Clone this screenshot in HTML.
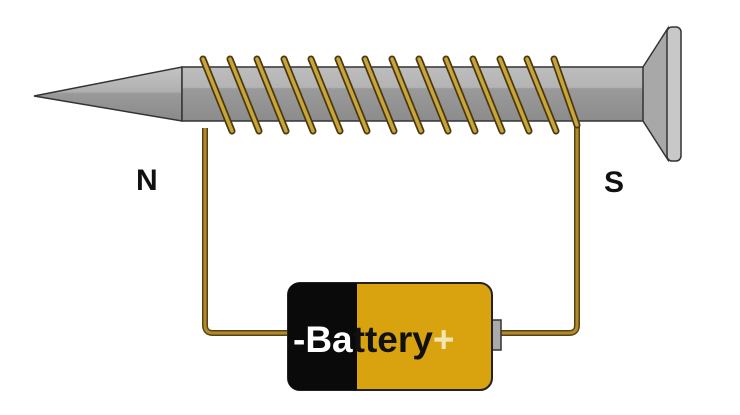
<!DOCTYPE html>
<html><head><meta charset="utf-8"><style>
html,body{margin:0;padding:0;background:#fff;width:740px;height:415px;overflow:hidden}
</style></head><body>
<svg width="740" height="415" viewBox="0 0 740 415" xmlns="http://www.w3.org/2000/svg">
<defs>
<linearGradient id="tip" x1="0" y1="0" x2="0" y2="1">
<stop offset="0" stop-color="#c4c4c4"/><stop offset="0.45" stop-color="#b0b0b0"/><stop offset="0.5" stop-color="#999"/><stop offset="1" stop-color="#8a8a8a"/></linearGradient>
<linearGradient id="shaft" x1="0" y1="0" x2="0" y2="1">
<stop offset="0" stop-color="#bdbdbd"/><stop offset="0.38" stop-color="#b4b4b4"/><stop offset="0.4" stop-color="#9a9a9a"/><stop offset="1" stop-color="#8c8c8c"/></linearGradient>
</defs>
<!-- wires -->
<path d="M205 128 V325 Q205 333 213 333 H292" fill="none" stroke="#5a4310" stroke-width="6"/>
<path d="M205 128 V325 Q205 333 213 333 H292" fill="none" stroke="#b08a2e" stroke-width="3"/>
<path d="M577 125 V325 Q577 333 569 333 H498" fill="none" stroke="#5a4310" stroke-width="6"/>
<path d="M577 125 V325 Q577 333 569 333 H498" fill="none" stroke="#b08a2e" stroke-width="3"/>
<!-- nail tip -->
<polygon points="34,96 182,67 182,121" fill="url(#tip)" stroke="#333" stroke-width="1.5"/>
<!-- shaft -->
<rect x="182" y="67" width="462" height="54" fill="url(#shaft)" stroke="#333" stroke-width="1.5"/>
<!-- head -->
<polygon points="643,67 668,28 668,160 643,121" fill="#a8a8a8" stroke="#333" stroke-width="1.5"/>
<rect x="667" y="27" width="14" height="134" rx="5" fill="#c8c8c8" stroke="#333" stroke-width="1.5"/>
<!-- coils -->
<g stroke-linecap="round">
<g id="coils" fill="none">
<path d="M203 59 L232 131" stroke="#4a3a10" stroke-width="7"/>
<path d="M203 59 L232 131" stroke="#c9a43a" stroke-width="3.5"/>
</g>
<use href="#coils" x="27"/><use href="#coils" x="54"/><use href="#coils" x="81"/>
<use href="#coils" x="108"/><use href="#coils" x="135"/><use href="#coils" x="162"/>
<use href="#coils" x="189"/><use href="#coils" x="216"/><use href="#coils" x="243"/>
<use href="#coils" x="270"/><use href="#coils" x="297"/><use href="#coils" x="324"/>
<path d="M554 59 L577 125" stroke="#4a3a10" stroke-width="7" fill="none"/>
<path d="M554 59 L577 125" stroke="#c9a43a" stroke-width="3.5" fill="none"/>
</g>
<!-- battery -->
<rect x="490" y="320" width="11" height="30" fill="#aaa" stroke="#333" stroke-width="1.5"/>
<rect x="288" y="283" width="204" height="107" rx="12" fill="#d9a20f" stroke="#222" stroke-width="2"/>
<path d="M300 283 H357 V390 H300 Q288 390 288 378 V295 Q288 283 300 283 Z" fill="#0a0a0a"/>
<text x="293" y="352" font-family="Liberation Sans, sans-serif" font-weight="bold" font-size="37" fill="#fff">-Ba<tspan fill="#111">ttery</tspan><tspan fill="#f4e6b0">+</tspan></text>
<!-- labels -->
<text x="136" y="190" font-family="Liberation Sans, sans-serif" font-weight="bold" font-size="30" fill="#111">N</text>
<text x="604" y="192" font-family="Liberation Sans, sans-serif" font-weight="bold" font-size="30" fill="#111">S</text>
</svg>
</body></html>
